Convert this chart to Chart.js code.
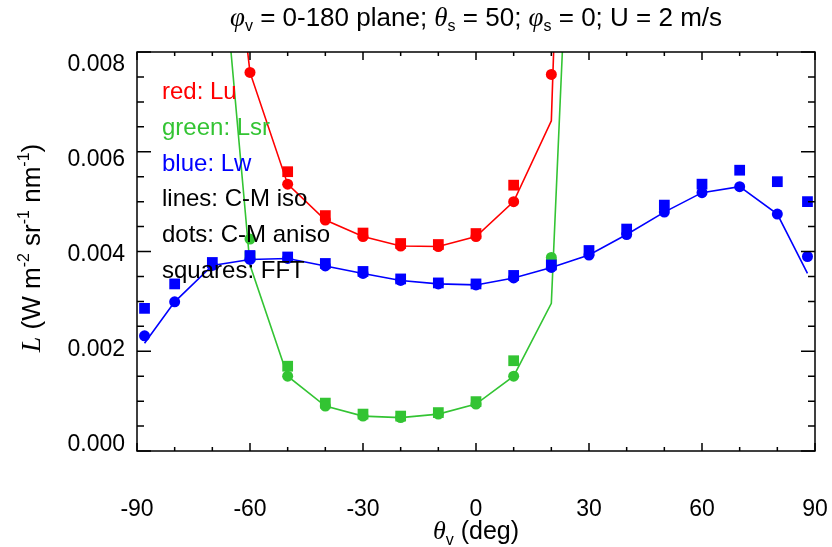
<!DOCTYPE html>
<html>
<head>
<meta charset="utf-8">
<script src="https://cdn.jsdelivr.net/npm/chart.js@4.4.1/dist/chart.umd.min.js"></script>
<style>
html, body { margin: 0; padding: 0; background: #fff; }
#wrap { width: 832px; height: 547px; position: relative; }
</style>
</head>
<body>
<div id="wrap"><canvas id="chart"></canvas></div>
<script>
// viewing zenith angle (deg)
const angles = [-88, -80, -70, -60, -50, -40, -30, -20, -10, 0, 10, 20, 30, 40, 50, 60, 70, 80, 88];

// red: Lu
const luIso   = [null, null, 0.0142, 0.00759, 0.00535, 0.00463, 0.00430, 0.00411, 0.00410, 0.00430, 0.00500, 0.00662, 0.0293, null, null, null, null, null, null];
const luAniso = [null, null, null, 0.00759, 0.00535, 0.00463, 0.00430, 0.00411, 0.00410, 0.00430, 0.00500, 0.00755, null, null, null, null, null, null, null];
const luFFT   = [null, null, null, null, 0.00560, 0.00472, 0.00437, 0.00416, 0.00414, 0.00436, 0.00533, null, null, null, null, null, null, null, null];

// green: Lsr
const lsrIso   = [null, null, 0.0122, 0.00373, 0.00150, 0.00090, 0.00070, 0.00067, 0.00074, 0.00094, 0.00150, 0.00296, 0.0202, null, null, null, null, null, null];
const lsrAniso = [null, null, null, 0.00425, 0.00150, 0.00090, 0.00070, 0.00067, 0.00074, 0.00094, 0.00150, 0.00388, null, null, null, null, null, null, null];
const lsrFFT   = [null, null, null, 0.00390, 0.00170, 0.00096, 0.00074, 0.00070, 0.00077, 0.00099, 0.00181, 0.00375, null, null, null, null, null, null, null];

// blue: Lw
const lwIso   = [0.00216, 0.00299, 0.00372, 0.00384, 0.00386, 0.00371, 0.00356, 0.00342, 0.00335, 0.00333, 0.00347, 0.00368, 0.00393, 0.00434, 0.00479, 0.00518, 0.00530, 0.00475, 0.00356];
const lwAniso = [0.00231, 0.00299, 0.00372, 0.00384, 0.00386, 0.00371, 0.00356, 0.00342, 0.00335, 0.00333, 0.00347, 0.00368, 0.00393, 0.00434, 0.00479, 0.00518, 0.00530, 0.00475, 0.00390];
const lwFFT   = [0.00286, 0.00335, 0.00378, 0.00392, 0.00389, 0.00376, 0.00360, 0.00345, 0.00337, 0.00335, 0.00352, 0.00373, 0.00402, 0.00445, 0.00493, 0.00535, 0.00563, 0.00540, 0.00500];

const xTicks = [-90, -60, -30, 0, 30, 60, 90];
const yTicks = [0, 0.002, 0.004, 0.006, 0.008];

const RED = '#ff0000', GREEN = '#33c433', BLUE = '#0000ff';
const SANS = "'Liberation Sans', Arial, Helvetica, sans-serif";
const SERIF = "'Liberation Serif', 'Times New Roman', serif";

const pts = arr => angles.map((a, i) => ({ x: a, y: arr[i] }));

const lineSet = (arr, color) => ({
    data: pts(arr), showLine: true, borderColor: color, borderWidth: 1.6,
    pointRadius: 0, spanGaps: false, clip: 0
});
const dotSet = (arr, color) => ({
    data: pts(arr), showLine: false, pointStyle: 'circle', pointRadius: 5.5,
    pointBackgroundColor: color, pointBorderWidth: 0, clip: 12
});
const squareSet = (arr, color) => ({
    data: pts(arr), showLine: false, pointStyle: 'rect', pointRadius: 7.6,
    pointBackgroundColor: color, pointBorderWidth: 0, clip: 12
});

// draw a run of text pieces: [text, font, dy]
function drawRich(ctx, parts, x, y, align) {
    let w = 0;
    parts.forEach(p => { ctx.font = p[1]; w += ctx.measureText(p[0]).width; });
    let cx = align === 'center' ? x - w / 2 : x;
    ctx.textAlign = 'left';
    ctx.textBaseline = 'alphabetic';
    parts.forEach(p => {
        ctx.font = p[1];
        ctx.fillText(p[0], cx, y + (p[2] || 0));
        cx += ctx.measureText(p[0]).width;
    });
    return w;
}

const framePlugin = {
    id: 'frame',
    afterDatasetsDraw(chart) {
        const { ctx, chartArea: a, scales: { x, y } } = chart;
        ctx.save();
        ctx.strokeStyle = '#000';
        ctx.lineWidth = 1.5;
        ctx.strokeRect(a.left, a.top, a.right - a.left, a.bottom - a.top);

        // tick marks, pointing inwards on all four sides
        ctx.beginPath();
        for (let v = -90; v <= 90; v += 10) {
            const px = x.getPixelForValue(v);
            const len = v % 30 === 0 ? 8 : 4;
            ctx.moveTo(px, a.bottom); ctx.lineTo(px, a.bottom - len);
            ctx.moveTo(px, a.top); ctx.lineTo(px, a.top + len);
        }
        for (let k = 0; k <= 16; k++) {
            const py = y.getPixelForValue(k * 0.0005);
            const len = k % 4 === 0 ? 14 : 7;
            ctx.moveTo(a.left, py); ctx.lineTo(a.left + len, py);
            ctx.moveTo(a.right, py); ctx.lineTo(a.right - len, py);
        }
        ctx.stroke();

        ctx.fillStyle = '#000';
        ctx.font = '23px ' + SANS;
        ctx.textBaseline = 'middle';

        // x tick labels
        ctx.textAlign = 'center';
        xTicks.forEach(v => ctx.fillText(String(v), x.getPixelForValue(v), a.bottom + 59));

        // y tick labels (IDL-style spacing, slightly inside the axis range)
        ctx.textAlign = 'right';
        const t0 = a.top + 13, t1 = a.bottom - 6;
        yTicks.forEach(v => {
            const py = y.getPixelForValue(v);
            const ly = t0 + (py - a.top) * (t1 - t0) / (a.bottom - a.top);
            ctx.fillText(v.toFixed(3), a.left - 12, ly);
        });

        // legend text inside the plot
        const legend = [
            ['red: Lu', RED], ['green: Lsr', GREEN], ['blue: Lw', BLUE],
            ['lines: C-M iso', '#000'], ['dots: C-M aniso', '#000'], ['squares: FFT', '#000']
        ];
        ctx.font = '24px ' + SANS;
        ctx.textAlign = 'left';
        ctx.textBaseline = 'alphabetic';
        legend.forEach((l, i) => {
            ctx.fillStyle = l[1];
            ctx.fillText(l[0], 162, 99 + i * 35.8);
        });

        // title
        ctx.fillStyle = '#000';
        const tf = '26px ' + SANS, gf = 'italic 27px ' + SERIF, sf = '16px ' + SANS;
        const cx = (a.left + a.right) / 2;
        drawRich(ctx, [
            ['\u03c6', gf], ['v', sf, 5], [' = 0-180 plane; ', tf],
            ['\u03b8', gf], ['s', sf, 5], [' = 50; ', tf],
            ['\u03c6', gf], ['s', sf, 5], [' = 0; U = 2 m/s', tf]
        ], cx, 26, 'center');

        // x axis title
        drawRich(ctx, [
            ['\u03b8', 'italic 26px ' + SERIF], ['v', '16px ' + SANS, 6], [' (deg)', '25px ' + SANS]
        ], cx, 539, 'center');

        // y axis title
        ctx.translate(40, 248);
        ctx.rotate(-Math.PI / 2);
        const bf = '26px ' + SANS, pf = '16px ' + SANS;
        drawRich(ctx, [
            ['L', 'italic 28px ' + SERIF], [' (W m', bf], ['-2', pf, -11], [' sr', bf],
            ['-1', pf, -11], [' nm', bf], ['-1', pf, -11], [')', bf]
        ], 0, 0, 'center');
        ctx.restore();
    }
};

Chart.defaults.font.family = SANS;
Chart.defaults.color = '#000';

new Chart(document.getElementById('chart'), {
    type: 'scatter',
    data: {
        datasets: [
            squareSet(lwFFT, BLUE), dotSet(lwAniso, BLUE), lineSet(lwIso, BLUE),
            squareSet(luFFT, RED), dotSet(luAniso, RED), lineSet(luIso, RED),
            dotSet(lsrAniso, GREEN), squareSet(lsrFFT, GREEN), lineSet(lsrIso, GREEN)
        ]
    },
    options: {
        responsive: true,
        maintainAspectRatio: false,
        animation: false,
        layout: { padding: { top: 52, right: 17, left: 0, bottom: 0 } },
        plugins: { legend: { display: false }, title: { display: false }, tooltip: { enabled: false } },
        scales: {
            x: {
                type: 'linear', min: -90, max: 90,
                grid: { display: false, drawTicks: false },
                border: { display: false },
                ticks: { display: false, stepSize: 30 },
                afterFit: s => { s.height = 96; }
            },
            y: {
                min: 0, max: 0.008,
                grid: { display: false, drawTicks: false },
                border: { display: false },
                ticks: { display: false, stepSize: 0.002 },
                afterFit: s => { s.width = 137; }
            }
        }
    },
    plugins: [framePlugin]
});
</script>
</body>
</html>
